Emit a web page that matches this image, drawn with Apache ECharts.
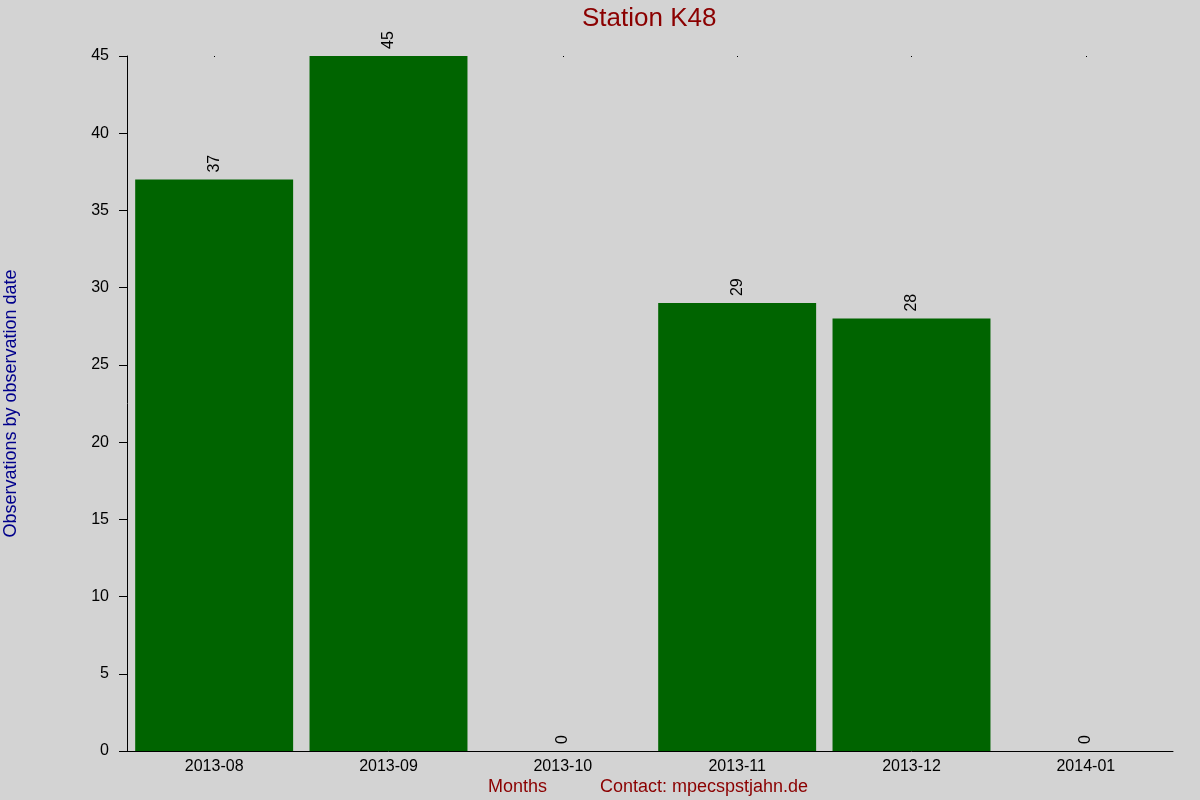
<!DOCTYPE html>
<html><head><meta charset="utf-8">
<script src="https://cdn.jsdelivr.net/npm/echarts@6/dist/echarts.min.js"></script>
<style>html,body{margin:0;padding:0;background:#d3d3d3}#c{width:1200px;height:800px}</style>
</head><body><div id="c"></div>
<script>
var categories = ['2013-08','2013-09','2013-10','2013-11','2013-12','2014-01'];
var observations = [37, 45, 0, 29, 28, 0];
var yTicks = [0, 5, 10, 15, 20, 25, 30, 35, 40, 45];

var chart = echarts.init(document.getElementById('c'));
chart.setOption({
  backgroundColor: '#d3d3d3',
  animation: false,
  title: [
    {text: 'Station K48', left: 577, top: 1, textStyle: {color: '#8b0000', fontSize: 26, fontWeight: 'normal', fontFamily: 'Liberation Sans'}},
    {text: 'Months', left: 483, top: 773, textStyle: {color: '#8b0000', fontSize: 18, fontWeight: 'normal', fontFamily: 'Liberation Sans'}},
    {text: 'Contact: mpecspstjahn.de', left: 595, top: 773, textStyle: {color: '#8b0000', fontSize: 18, fontWeight: 'normal', fontFamily: 'Liberation Sans'}}
  ],
  grid: {left: 127, right: 27, top: 56, bottom: 49, containLabel: false, outerBoundsMode: 'none'},
  xAxis: [{
    type: 'category', data: categories,
    axisLine: {show: true, lineStyle: {color: '#000', width: 1}},
    axisTick: {show: false},
    axisLabel: {color: '#000', fontSize: 16, fontFamily: 'Liberation Sans', margin: 8},
    splitLine: {show: false}
  }, {
    type: 'category', data: categories, position: 'top',
    axisLine: {show: false},
    axisTick: {show: true, alignWithLabel: true, length: 1, inside: true, lineStyle: {color: '#000', width: 1}},
    axisLabel: {show: false}
  }],
  yAxis: {
    type: 'value', min: 0, max: 45, interval: 5,
    name: 'Observations by observation date', nameLocation: 'middle', nameGap: 107,
    nameTextStyle: {color: '#00008b', fontSize: 18, fontFamily: 'Liberation Sans'},
    axisLine: {show: true, lineStyle: {color: '#000', width: 1}},
    axisTick: {show: true, length: 8, lineStyle: {color: '#000'}},
    axisLabel: {color: '#000', fontSize: 16, fontFamily: 'Liberation Sans', margin: 18,
      formatter: function (v) { return yTicks.indexOf(v) >= 0 ? String(v) : ''; }},
    splitLine: {show: false}
  },
  series: [{
    type: 'bar', data: observations, xAxisIndex: 0,
    barCategoryGap: '9.4%',
    itemStyle: {color: '#006400'},
    label: {show: true, position: 'top', rotate: 90, align: 'left', verticalAlign: 'middle', distance: 7,
      color: '#000', fontSize: 16, fontFamily: 'Liberation Sans'}
  }]
});
</script></body></html>
